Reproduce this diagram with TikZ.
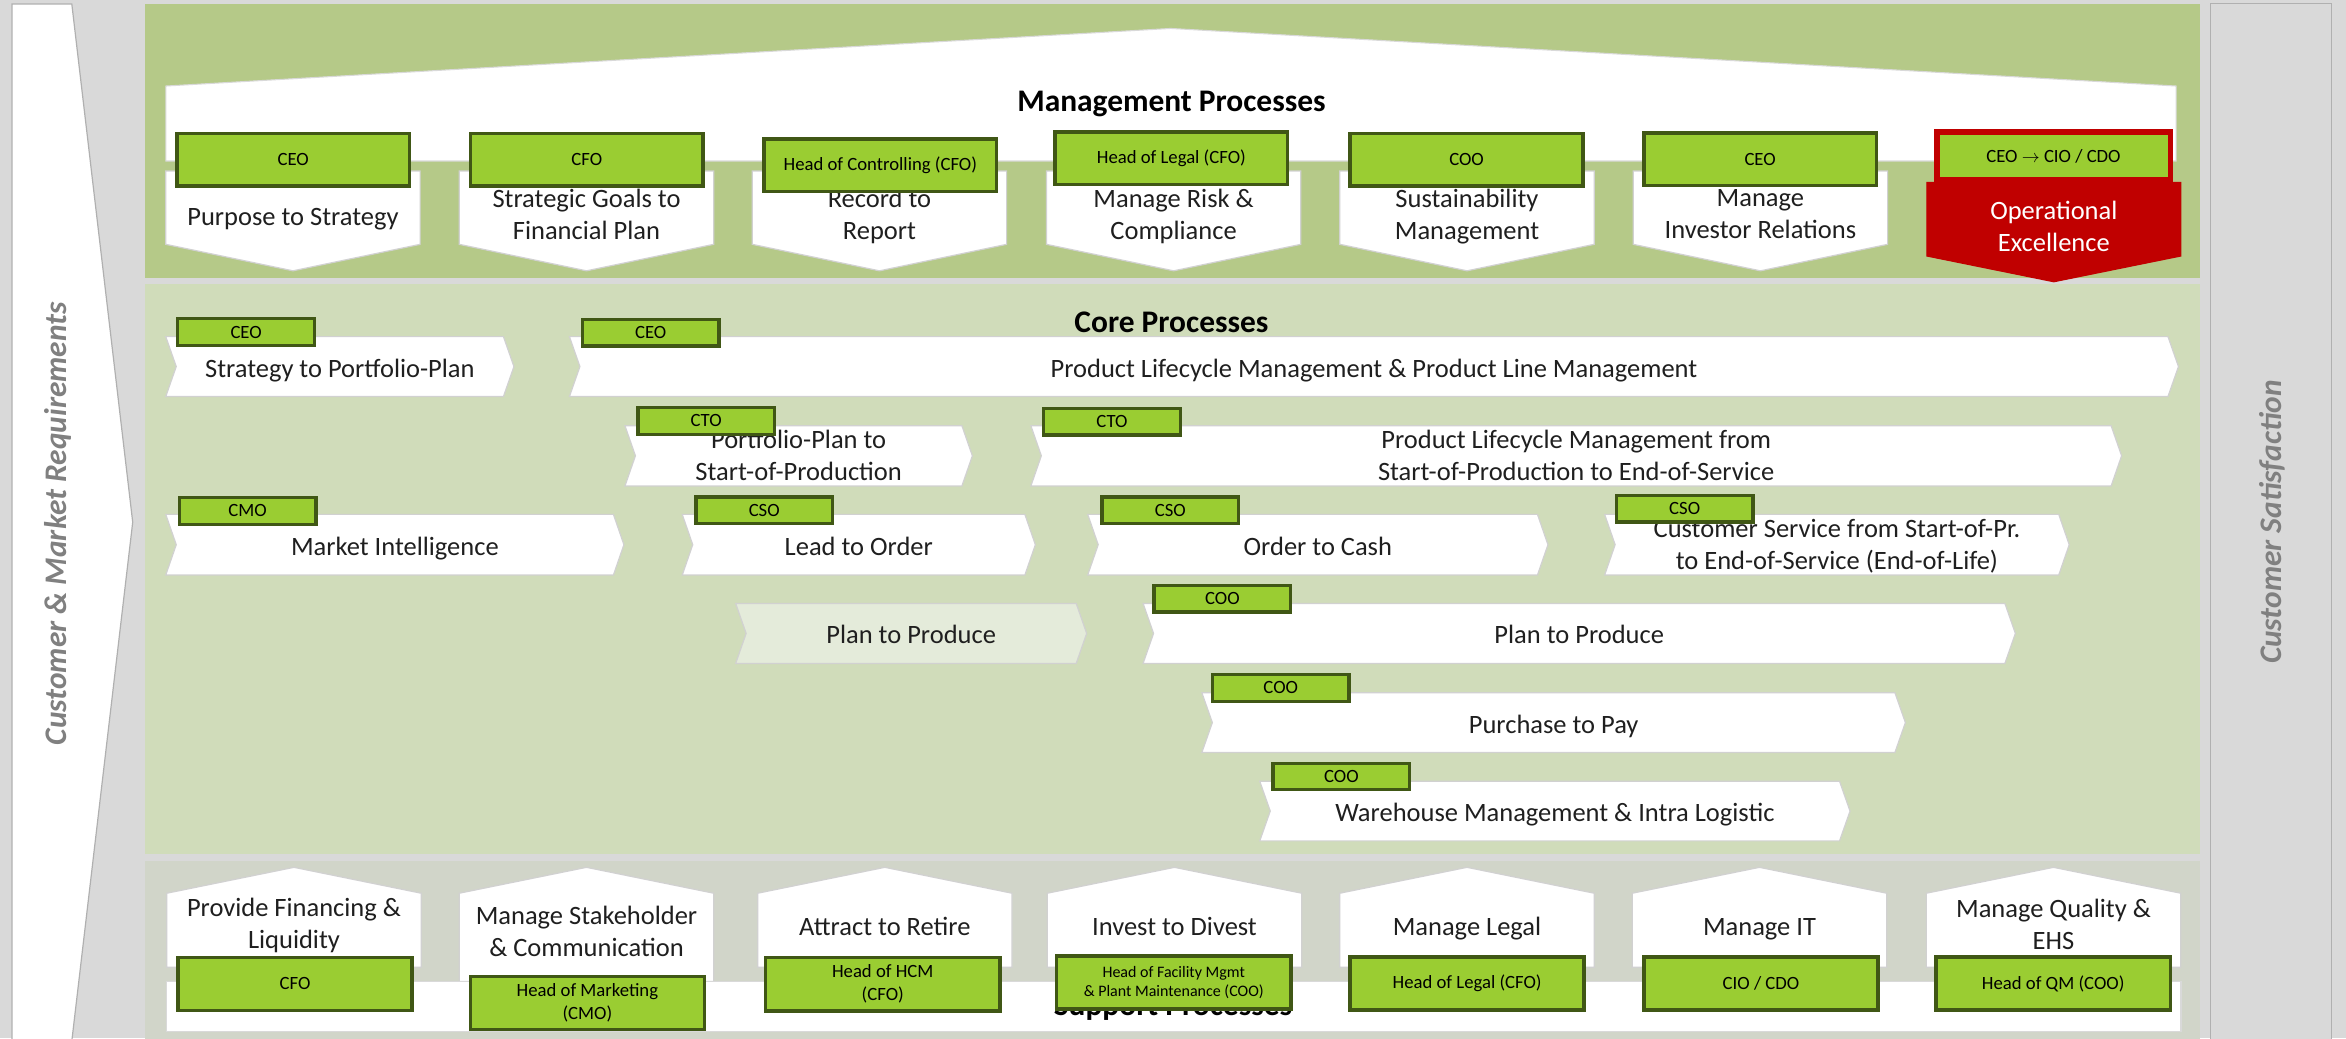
\documentclass[tikz,border=0pt]{standalone}
\usepackage{fontspec}
\setmainfont{Carlito}
\definecolor{bggray}{HTML}{D9D9D9}
\definecolor{mgmtgreen}{HTML}{B5C988}
\definecolor{coregreen}{HTML}{D0DCBA}
\definecolor{supgray}{HTML}{D1D5C9}
\definecolor{lightchev}{HTML}{E4EBDA}
\definecolor{rolegreen}{HTML}{9ACD32}
\definecolor{roledark}{HTML}{405715}
\definecolor{opred}{HTML}{C00000}
\definecolor{sidegray}{HTML}{808080}
\definecolor{txt}{HTML}{1F1F1F}
\definecolor{edgegray}{HTML}{B0B0B0}
\tikzset{
  chev/.style={fill=white, draw=black!18, line width=0.8},
  chevlight/.style={fill=lightchev, draw=black!18, line width=0.8},
  ptext/.style={font=\fontsize{17.7}{21.2}\selectfont, text=txt, align=center, inner sep=0pt,
    execute at begin node=\strut, execute at end node=\strut},
  rolebox/.style={fill=rolegreen, draw=roledark, line width=2.4, text=black,
    font=\fontsize{12.5}{15.4}\selectfont, align=center, inner sep=0pt,
    minimum width=155.5, minimum height=35},
  corerole/.style={rolebox, line width=2.2, minimum width=91.3, minimum height=17.8},
  suprole/.style={rolebox, minimum width=156.5, minimum height=35.5},
  titletext/.style={font=\bfseries\fontsize{21}{25}\selectfont, text=black, inner sep=0pt},
  sidetext/.style={font=\bfseries\itshape\fontsize{21}{25}\selectfont, text=sidegray, rotate=90, inner sep=0pt},
}
% management chevron: name, x1, text
\newcommand\mchev[3]{%
  \draw[chev] (#2,114.3) -- ({#2+170},114.3) -- ({#2+170},163.3) -- ({#2+85},181) -- (#2,163.3) -- cycle;
  \node[ptext] (#1) at ({#2+85},146.2) {#3};}
% core chevron: [style] name, x1, xtip, ytop, ybot, text
\newcommand\cchev[7][chev]{%
  \draw[#1] (#3,#5) -- ({#4-7},#5) -- (#4,{(#5+#6)/2}) -- ({#4-7},#6) -- (#3,#6) -- ({#3+7},{(#5+#6)/2}) -- cycle;
  \node[ptext] (#2) at ({(#3+#4)/2},{(#5+#6)/2+2.8}) {#7};}
% support house: name, x1, ybot, ytext, text
\newcommand\shouse[5]{%
  \draw[chev] (#2,#3) -- (#2,597) -- ({#2+85},579.7) -- ({#2+170},597) -- ({#2+170},#3) -- cycle;
  \node[ptext] (#1) at ({#2+85},{#4+1.5}) {#5};}
\begin{document}
\begin{tikzpicture}[x=1pt,y=-1pt]
\useasboundingbox (0,0) rectangle (1568,694);
\clip (0,0) rectangle (1568,694);
\fill[bggray] (0,0) rectangle (1568,694);

% side panels
\draw[fill=white, draw=edgegray, line width=0.8] (8,2.7) -- (48,2.7) -- (88.7,349) -- (47.5,700) -- (8,700) -- cycle;
\draw[fill=bggray, draw=edgegray, line width=0.9] (1477.6,2.2) rectangle (1558.5,700);
\node[sidetext] (leftlabel) at (39,350) {Customer \& Market Requirements};
\node[sidetext] (rightlabel) at (1518.5,349) {Customer Satisfaction};

% panels
\fill[mgmtgreen] (97,2.7) rectangle (1470.3,185.6);
\fill[coregreen] (97,189.8) rectangle (1470.3,570.8);
\fill[supgray] (97,575.2) rectangle (1470.3,700);

% ---------------- management ----------------
\draw[fill=white, draw=black!15, line width=0.7] (110.8,107.6) -- (110.8,57.5) -- (782.5,19) -- (1454.5,57.5) -- (1454.5,107.6) -- cycle;
\node[titletext, anchor=base] (mtitle) at (783,74.6) {Management Processes};

\mchev{mp1}{110.8}{Purpose to Strategy}
\mchev{mp2}{307}{Strategic Goals to\\Financial Plan}
\mchev{mp3}{502.8}{Record to\\Report}
\mchev{mp4}{699.4}{Manage Risk \&\\Compliance}
\mchev{mp5}{895.5}{Sustainability\\Management}
\mchev{mp6}{1091.6}{Manage\\Investor Relations}
\draw[fill=opred, draw=opred, line width=0.8] (1287.9,121.9) -- (1457.5,121.9) -- (1457.5,171.1) -- (1372.7,188.3) -- (1287.9,171.1) -- cycle;
\node[ptext, text=white] (mp7) at (1372.7,154.6) {Operational\\Excellence};

\node[rolebox] (mr1) at (196,106.7) {CEO};
\node[rolebox] (mr2) at (392.2,106.7) {CFO};
\node[rolebox] (mr3) at (588.4,110.4) {Head of Controlling (CFO)};
\node[rolebox] (mr4) at (782.9,105.7) {Head of Legal (CFO)};
\node[rolebox] (mr5) at (980.2,106.8) {COO};
\node[rolebox] (mr6) at (1176.4,106.4) {CEO};
\node[rolebox, draw=opred, line width=3.6, minimum width=156, minimum height=32] (mr7) at (1372.5,104.3) {CEO $\rightarrow$ CIO / CDO};

% ---------------- core ----------------
\node[titletext, anchor=base] (ctitle) at (783,222.4) {Core Processes};

\cchev{cp1}{110.8}{343.5}{225}{265}{Strategy to Portfolio-Plan}
\cchev{cp2}{380.6}{1456}{225}{265}{Product Lifecycle Management \& Product Line Management}
\cchev{cp3}{417.7}{649.9}{284.5}{324.8}{Portfolio-Plan to\\Start-of-Production}
\cchev{cp4}{689}{1418}{284.5}{324.8}{Product Lifecycle Management from\\Start-of-Production to End-of-Service}
\cchev{cp5}{110.8}{417}{343.8}{384.3}{Market Intelligence}
\cchev{cp6}{456}{692}{343.8}{384.3}{Lead to Order}
\cchev{cp7}{727}{1034.6}{343.8}{384.3}{Order to Cash}
\cchev{cp8}{1072.5}{1383}{343.8}{384.3}{Customer Service from Start-of-Pr.\\to End-of-Service (End-of-Life)}
\cchev[chevlight]{cp9}{491.7}{726.3}{403.3}{443.4}{Plan to Produce}
\cchev{cp10}{764}{1347}{403.3}{443.4}{Plan to Produce}
\cchev{cp11}{803.3}{1273.5}{463}{502.9}{Purchase to Pay}
\cchev{cp12}{842}{1236.5}{522.2}{562}{Warehouse Management \& Intra Logistic}

\node[corerole] (cr1) at (164.5,221.9) {CEO};
\node[corerole] (cr2) at (434.9,222.4) {CEO};
\node[corerole] (cr3) at (472,281.3) {CTO};
\node[corerole] (cr4) at (743.2,281.8) {CTO};
\node[corerole] (cr5) at (165.5,341.5) {CMO};
\node[corerole] (cr6) at (510.8,341) {CSO};
\node[corerole] (cr7) at (782.2,341) {CSO};
\node[corerole] (cr8) at (1126,339.9) {CSO};
\node[corerole] (cr9) at (817,400.2) {COO};
\node[corerole] (cr10) at (856,459.8) {COO};
\node[corerole] (cr11) at (896.5,519) {COO};

% ---------------- support ----------------
\shouse{sp1}{111.5}{646.5}{619}{Provide Financing \&\\Liquidity}
\shouse{sp2}{307}{656}{624.3}{Manage Stakeholder\\\& Communication}
\shouse{sp3}{506.4}{646.5}{619.8}{Attract to Retire}
\shouse{sp4}{700}{646.5}{619.6}{Invest to Divest}
\shouse{sp5}{895.5}{646.5}{619.6}{Manage Legal}
\shouse{sp6}{1091}{646.5}{619.6}{Manage IT}
\shouse{sp7}{1287.5}{646.5}{619.3}{Manage Quality \&\\EHS}

\draw[fill=white, draw=black!15, line width=0.7] (111,656) rectangle (1457.7,689.5);
\node[titletext, anchor=base] (stitle) at (784,679) {Support Processes};

\node[suprole] (sr1) at (197.2,657.6) {CFO};
\node[suprole] (sr2) at (392.6,670.3) {Head of Marketing\\(CMO)};
\node[suprole] (sr3) at (590,657.8) {Head of HCM\\(CFO)};
\node[suprole, font=\fontsize{10.7}{13.1}\selectfont] (sr4) at (784.5,656.8) {Head of Facility Mgmt\\\& Plant Maintenance (COO)};
\node[suprole] (sr5) at (980.6,657.4) {Head of Legal (CFO)};
\node[suprole] (sr6) at (1177,657.4) {CIO / CDO};
\node[suprole] (sr7) at (1372.3,657.4) {Head of QM (COO)};
\end{tikzpicture}
\end{document}
